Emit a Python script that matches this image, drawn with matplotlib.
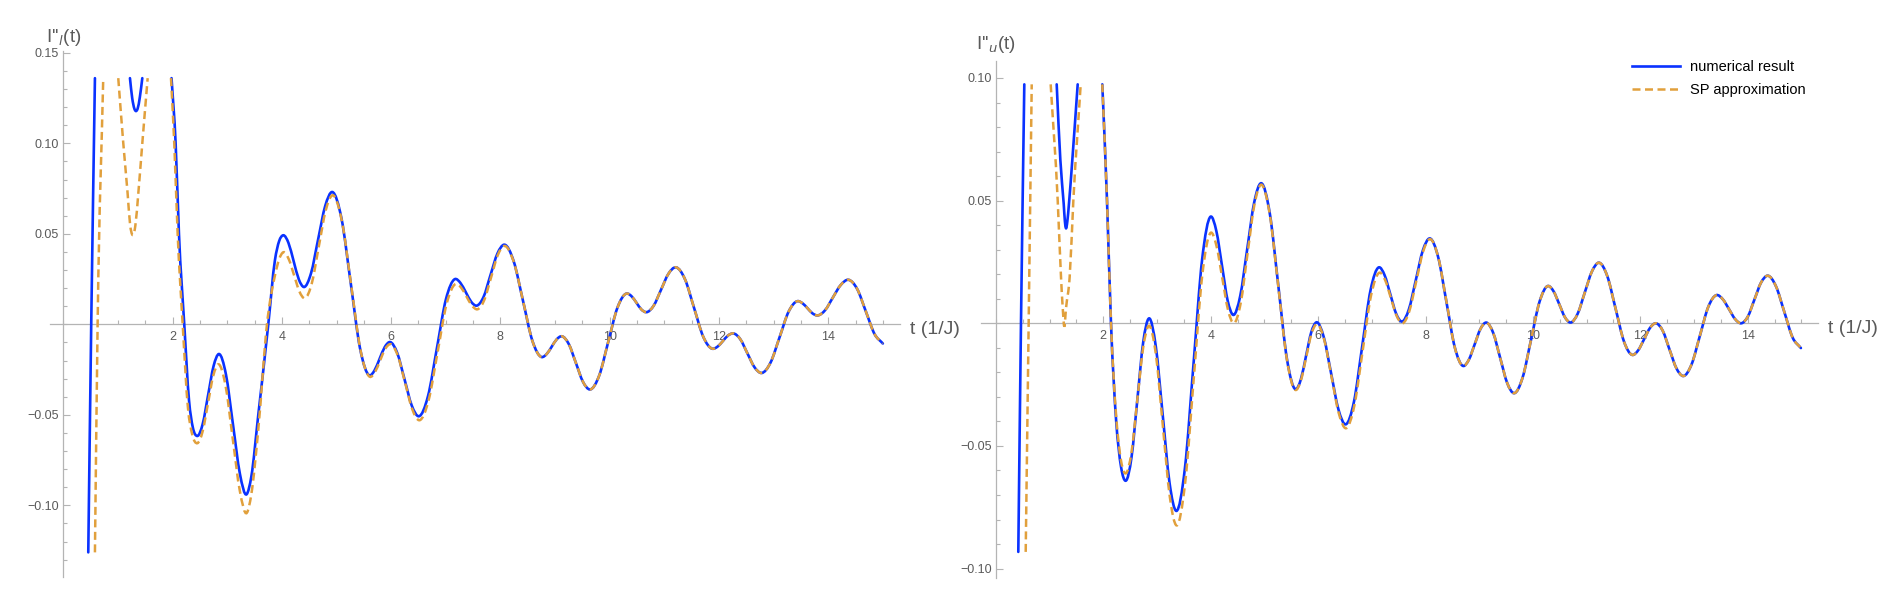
import numpy as np
import matplotlib
matplotlib.use("Agg")
import matplotlib.pyplot as plt
from matplotlib.ticker import FixedLocator, MultipleLocator, FuncFormatter
from matplotlib.path import Path
from matplotlib.patches import PathPatch
from matplotlib.lines import Line2D

plt.rcParams['font.family'] = ['Liberation Sans', 'DejaVu Sans']
nan = np.nan

# ---------------- data ----------------
# left panel I''_l(t): numerical result, early part (t < 8.7)
left_num_t = [0.456, 0.51, 0.578, nan,
              1.219, 1.26, 1.30, 1.329, 1.36, 1.40, 1.445, nan,
              1.98, 2.055, 2.116, 2.213, 2.30, 2.37, 2.451,
              2.55, 2.65, 2.75, 2.848,
              2.976, 3.104, 3.232, 3.355,
              3.44, 3.568, 3.751, 3.873, 3.95, 4.025,
              4.12, 4.215, 4.31, 4.404,
              4.534, 4.663, 4.793, 4.922,
              5.092, 5.261, 5.431, 5.6,
              5.695, 5.789, 5.884, 5.978,
              6.111, 6.244, 6.376, 6.509,
              6.674, 6.839, 7.003, 7.168,
              7.267, 7.367, 7.466, 7.565,
              7.692, 7.818, 7.945, 8.071,
              8.242, 8.413, 8.584]
left_num_y = [-0.126, 0.0, 0.136, nan,
              0.136, 0.1250, 0.1191, 0.1178, 0.1192, 0.1255, 0.136, nan,
              0.136, 0.10, 0.05, 0.0, -0.042, -0.057, -0.0617,
              -0.0551, -0.0390, -0.0230, -0.0164,
              -0.0277, -0.0552, -0.0827, -0.0939,
              -0.0842, -0.05, 0.0, 0.0355, 0.046, 0.0492,
              0.0450, 0.0349, 0.0248, 0.0206,
              0.0283, 0.0469, 0.0654, 0.0731,
              0.0583, 0.0225, -0.0134, -0.0282,
              -0.0255, -0.019, -0.0125, -0.0098,
              -0.0158, -0.0303, -0.0448, -0.0508,
              -0.0397, -0.0129, 0.0139, 0.0250,
              0.0229, 0.0177, 0.0124, 0.0103,
              0.0152, 0.0272, 0.0391, 0.0440,
              0.0349, 0.0130, -0.0090]

# left panel SP approximation, early part
left_sp_t = [0.578, 0.627, 0.730, nan,
             1.005, 1.097, 1.176, 1.22, 1.268, 1.318, 1.372, 1.445, 1.543, nan,
             1.97, 2.03, 2.092, 2.184, 2.28, 2.36, 2.451,
             2.548, 2.646, 2.743, 2.84,
             2.97, 3.10, 3.23, 3.36,
             3.44, 3.568, 3.727, 3.873, 3.95, 4.025,
             4.124, 4.223, 4.321, 4.42,
             4.548, 4.675, 4.803, 4.93,
             5.10, 5.27, 5.44, 5.61,
             5.704, 5.798, 5.891, 5.985,
             6.119, 6.253, 6.386, 6.52,
             6.685, 6.85, 7.015, 7.18,
             7.28, 7.38, 7.48, 7.58,
             7.704, 7.828, 7.951, 8.075,
             8.246, 8.418, 8.589]
left_sp_y = [-0.126, 0.0, 0.136, nan,
             0.136, 0.10, 0.0724, 0.0556, 0.0493, 0.0546, 0.0724, 0.10, 0.136, nan,
             0.136, 0.10, 0.05, 0.0, -0.046, -0.061, -0.0657,
             -0.0593, -0.0439, -0.0285, -0.0221,
             -0.0341, -0.0631, -0.092, -0.1041,
             -0.094, -0.058, 0.0, 0.027, 0.036, 0.0398,
             0.0361, 0.0271, 0.0181, 0.0144,
             0.0227, 0.0429, 0.063, 0.0713,
             0.0567, 0.0212, -0.0144, -0.029,
             -0.0264, -0.02, -0.0136, -0.011,
             -0.0171, -0.032, -0.0469, -0.053,
             -0.042, -0.0154, 0.0113, 0.0223,
             0.0203, 0.0153, 0.0103, 0.0083,
             0.0134, 0.0258, 0.0382, 0.0433,
             0.0343, 0.0124, -0.0096]

# left panel, late part where both curves coincide
left_tail_t = [8.755, 8.847, 8.938, 9.03, 9.121, 9.251, 9.381, 9.51, 9.64,
               9.808, 9.975, 10.143, 10.31, 10.40, 10.49, 10.58, 10.67,
               10.805, 10.94, 11.075, 11.21, 11.378, 11.545, 11.713, 11.88,
               11.975, 12.07, 12.165, 12.26, 12.39, 12.52, 12.65, 12.78,
               12.945, 13.11, 13.275, 13.44, 13.53, 13.62, 13.71, 13.80,
               13.943, 14.085, 14.228, 14.37, 14.53, 14.69, 14.85, 15.0]
left_tail_y = [-0.0181, -0.0164, -0.0124, -0.0083, -0.0066, -0.0109, -0.0213, -0.0317, -0.036,
               -0.0283, -0.0095, 0.0093, 0.017, 0.0155, 0.0119, 0.0082, 0.0067,
               0.0103, 0.0191, 0.0279, 0.0315, 0.0249, 0.009, -0.0069, -0.0135,
               -0.0123, -0.0093, -0.0062, -0.005, -0.0082, -0.016, -0.0237, -0.0269,
               -0.0211, -0.0071, 0.007, 0.0128, 0.0116, 0.0089, 0.0061, 0.0049,
               0.0078, 0.0148, 0.0217, 0.0246, 0.0195, 0.007, -0.0055, -0.0106]

# right panel I''_u(t): numerical result, early part
right_num_t = [0.417, 0.467, 0.529, nan,
               1.132, 1.20, 1.262, 1.285, 1.305, 1.33, 1.361, 1.423, 1.523, nan,
               1.981, 2.069, 2.143, 2.24, 2.33, 2.417,
               2.526, 2.634, 2.743, 2.851,
               2.978, 3.106, 3.233, 3.36,
               3.52, 3.68, 3.84, 4.0,
               4.105, 4.21, 4.315, 4.42,
               4.55, 4.68, 4.81, 4.94,
               5.10, 5.26, 5.42, 5.58,
               5.678, 5.775, 5.873, 5.97,
               6.106, 6.242, 6.378, 6.514,
               6.668, 6.822, 6.976, 7.13,
               7.238, 7.345, 7.453, 7.56,
               7.69, 7.82, 7.95, 8.08,
               8.235, 8.39, 8.545]
right_num_y = [-0.0932, 0.0, 0.0974, nan,
               0.0974, 0.0666, 0.0489, 0.0415, 0.0387, 0.0415, 0.0489, 0.0666, 0.0974, nan,
               0.0974, 0.05, 0.0, -0.040, -0.0585, -0.0642,
               -0.0545, -0.0311, -0.0077, 0.002,
               -0.0095, -0.0373, -0.065, -0.0765,
               -0.059, -0.0165, 0.026, 0.0435,
               0.0376, 0.0235, 0.0093, 0.0034,
               0.0112, 0.0303, 0.0493, 0.0571,
               0.0448, 0.0151, -0.0146, -0.0269,
               -0.0229, -0.0133, -0.0036, 0.0004,
               -0.0057, -0.0204, -0.0351, -0.0412,
               -0.0319, -0.0092, 0.0135, 0.0228,
               0.0196, 0.0118, 0.0039, 0.0007,
               0.0057, 0.0177, 0.0297, 0.0346,
               0.027, 0.0086, -0.0098]

# right panel SP approximation, early part
right_sp_t = [0.555, 0.61, 0.667, nan,
              1.02, 1.151, 1.212, 1.245, 1.274, 1.305, 1.374, 1.442, 1.579, nan,
              1.981, 2.069, 2.143, 2.24, 2.33, 2.417,
              2.526, 2.634, 2.743, 2.851,
              2.98, 3.108, 3.237, 3.365,
              3.524, 3.683, 3.841, 4.0,
              4.108, 4.215, 4.323, 4.43,
              4.558, 4.685, 4.813, 4.94,
              5.10, 5.26, 5.42, 5.58,
              5.679, 5.778, 5.876, 5.975,
              6.111, 6.248, 6.384, 6.52,
              6.675, 6.83, 6.985, 7.14,
              7.248, 7.355, 7.463, 7.57,
              7.699, 7.828, 7.956, 8.085,
              8.239, 8.393, 8.546]
right_sp_y = [-0.0932, 0.0, 0.0974, nan,
              0.0974, 0.05, 0.019, 0.006, -0.0014, 0.006, 0.019, 0.05, 0.0974, nan,
              0.0974, 0.05, 0.0, -0.038, -0.056, -0.0612,
              -0.0524, -0.0311, -0.0098, -0.001,
              -0.0129, -0.0417, -0.0705, -0.0824,
              -0.065, -0.0228, 0.0193, 0.0369,
              0.0315, 0.0185, 0.0054, 0.0,
              0.0082, 0.0283, 0.0483, 0.0565,
              0.0443, 0.0147, -0.015, -0.0272,
              -0.0233, -0.0138, -0.0043, -0.0003,
              -0.0065, -0.0216, -0.0366, -0.0428,
              -0.0335, -0.0111, 0.0113, 0.0206,
              0.0176, 0.0103, 0.003, 0.0,
              0.005, 0.0172, 0.0293, 0.0343,
              0.0267, 0.0084, -0.0100]

# right panel, late part where both curves coincide
right_tail_t = [8.70, 8.808, 8.915, 9.023, 9.13, 9.26, 9.39, 9.52, 9.65,
                9.808, 9.965, 10.123, 10.28, 10.385, 10.49, 10.595, 10.70,
                10.833, 10.965, 11.098, 11.23, 11.385, 11.54, 11.695, 11.85,
                11.96, 12.07, 12.18, 12.29, 12.418, 12.545, 12.673, 12.80,
                12.955, 13.11, 13.265, 13.42, 13.535, 13.65, 13.765, 13.88,
                14.003, 14.125, 14.248, 14.37, 14.525, 14.68, 14.835, 14.99]
right_tail_y = [-0.0174, -0.0148, -0.0086, -0.0023, 0.0003, -0.0039, -0.0141, -0.0243, -0.0285,
                -0.0221, -0.0067, 0.0088, 0.0152, 0.013, 0.0078, 0.0025, 0.0003,
                0.0039, 0.0125, 0.0211, 0.0247, 0.0192, 0.0059, -0.0074, -0.0129,
                -0.011, -0.0065, -0.0019, 0.0, -0.0031, -0.0108, -0.0184, -0.0215,
                -0.0167, -0.005, 0.0067, 0.0115, 0.0098, 0.0058, 0.0017, 0.0,
                0.0028, 0.0097, 0.0166, 0.0194, 0.0151, 0.0047, -0.0058, -0.0101]

x_major_ticks = [2, 4, 6, 8, 10, 12, 14]
left_y_ticks = [-0.10, -0.05, 0.05, 0.10, 0.15]
right_y_ticks = [-0.10, -0.05, 0.05, 0.10]
series_labels = ["numerical result", "SP approximation"]
left_ylabel = "I''$_{l}$(t)"
right_ylabel = "I''$_{u}$(t)"
x_label = "t (1/J)"

# ---------------- styling ----------------
W, H = 1900, 596
BLUE = '#0a32ff'
ORANGE = '#E1A03C'
AXIS_C = '#b4b4b4'
TEXT_C = '#5a5a5a'

fig = plt.figure(figsize=(W / 100, H / 100), dpi=100)


def px_axes(x0, x1, ytop, ybot):
    return fig.add_axes([x0 / W, 1 - ybot / H, (x1 - x0) / W, (ybot - ytop) / H])


def style(ax, xlim, ylim, yticks):
    ax.set_xlim(*xlim)
    ax.set_ylim(*ylim)
    for s in ('top', 'right'):
        ax.spines[s].set_visible(False)
    for s in ('left', 'bottom'):
        ax.spines[s].set_position(('data', 0))
        ax.spines[s].set_color(AXIS_C)
        ax.spines[s].set_linewidth(0.9)
        ax.spines[s].set_zorder(0.5)
    ax.xaxis.set_major_locator(FixedLocator(x_major_ticks))
    ax.xaxis.set_minor_locator(MultipleLocator(0.5))
    ax.yaxis.set_major_locator(FixedLocator(yticks))
    ax.yaxis.set_minor_locator(MultipleLocator(0.01))
    ax.xaxis.set_major_formatter(FuncFormatter(lambda v, p: f"{v:.0f}"))
    ax.yaxis.set_major_formatter(FuncFormatter(lambda v, p: f"{v:.2f}".replace('-', '\u2212')))
    ax.tick_params(which='both', direction='in', color=AXIS_C, width=0.8,
                   labelcolor=TEXT_C, labelsize=9)
    ax.tick_params(which='major', length=5.0)
    ax.tick_params(which='minor', length=2.8)
    ax.tick_params(axis='x', which='major', pad=5)
    ax.tick_params(axis='y', which='major', pad=3)
    ax.patch.set_alpha(0)


def curve_path(t, y):
    """Smooth Bezier path (in data coordinates) through the read points;
    NaN entries separate the pieces cut off by the plot range."""
    t = np.asarray(t, float)
    y = np.asarray(y, float)
    breaks = np.flatnonzero(np.isnan(t))
    bounds = np.concatenate(([-1], breaks, [len(t)]))
    verts, codes = [], []
    for a, b in zip(bounds[:-1], bounds[1:]):
        ts, ys = t[a + 1:b], y[a + 1:b]
        n = len(ts)
        if n < 2:
            continue
        h = np.diff(ts)
        d = np.diff(ys) / h
        m = np.empty(n)
        m[0], m[-1] = d[0], d[-1]
        if n > 2:
            m[1:-1] = (d[:-1] * h[1:] + d[1:] * h[:-1]) / (h[:-1] + h[1:])
        verts.append((ts[0], ys[0]))
        codes.append(Path.MOVETO)
        for i in range(n - 1):
            verts += [(ts[i] + h[i] / 3, ys[i] + m[i] * h[i] / 3),
                      (ts[i + 1] - h[i] / 3, ys[i + 1] - m[i + 1] * h[i] / 3),
                      (ts[i + 1], ys[i + 1])]
            codes += [Path.CURVE4] * 3
    return Path(verts, codes)


num_kw = dict(edgecolor=BLUE, lw=1.9, fill=False, joinstyle='round', capstyle='round', zorder=3)
sp_kw = dict(edgecolor=ORANGE, lw=1.8, fill=False, linestyle=(0, (3.2, 1.8)),
             capstyle='butt', zorder=4)

# left panel
axL = px_axes(49.7, 899.8, 51.0, 576.8)
style(axL, (-0.25, 15.31), (-0.1395, 0.151), left_y_ticks)
axL.add_patch(PathPatch(curve_path(left_num_t + left_tail_t, left_num_y + left_tail_y), **num_kw))
axL.add_patch(PathPatch(curve_path(left_sp_t + left_tail_t, left_sp_y + left_tail_y), **sp_kw))

# right panel
axR = px_axes(981.4, 1818.1, 60.8, 578.4)
style(axR, (-0.27, 15.31), (-0.104, 0.107), right_y_ticks)
axR.add_patch(PathPatch(curve_path(right_num_t + right_tail_t, right_num_y + right_tail_y), **num_kw))
axR.add_patch(PathPatch(curve_path(right_sp_t + right_tail_t, right_sp_y + right_tail_y), **sp_kw))

# axis labels
fig.text(63.4 / W, 1 - 42 / H, left_ylabel, ha='center', va='baseline', fontsize=13.5, color=TEXT_C)
fig.text(995.9 / W, 1 - 49 / H, right_ylabel, ha='center', va='baseline', fontsize=13.5, color=TEXT_C)
fig.text(910 / W, 1 - 334 / H, x_label, ha='left', va='baseline', fontsize=14, color=TEXT_C)
fig.text(1828 / W, 1 - 333 / H, x_label, ha='left', va='baseline', fontsize=14, color=TEXT_C)

handles = [Line2D([], [], color=BLUE, lw=1.9),
           Line2D([], [], color=ORANGE, lw=1.8, dashes=(3.2, 1.8))]
fig.legend(handles=handles, labels=series_labels, loc='upper left',
           bbox_to_anchor=(1632 / W, 1 - 60 / H),
           frameon=False, borderpad=0, borderaxespad=0, handlelength=3.3,
           handletextpad=0.65, labelspacing=0.65, fontsize=10.5)

fig.savefig('out.png', dpi=100)
